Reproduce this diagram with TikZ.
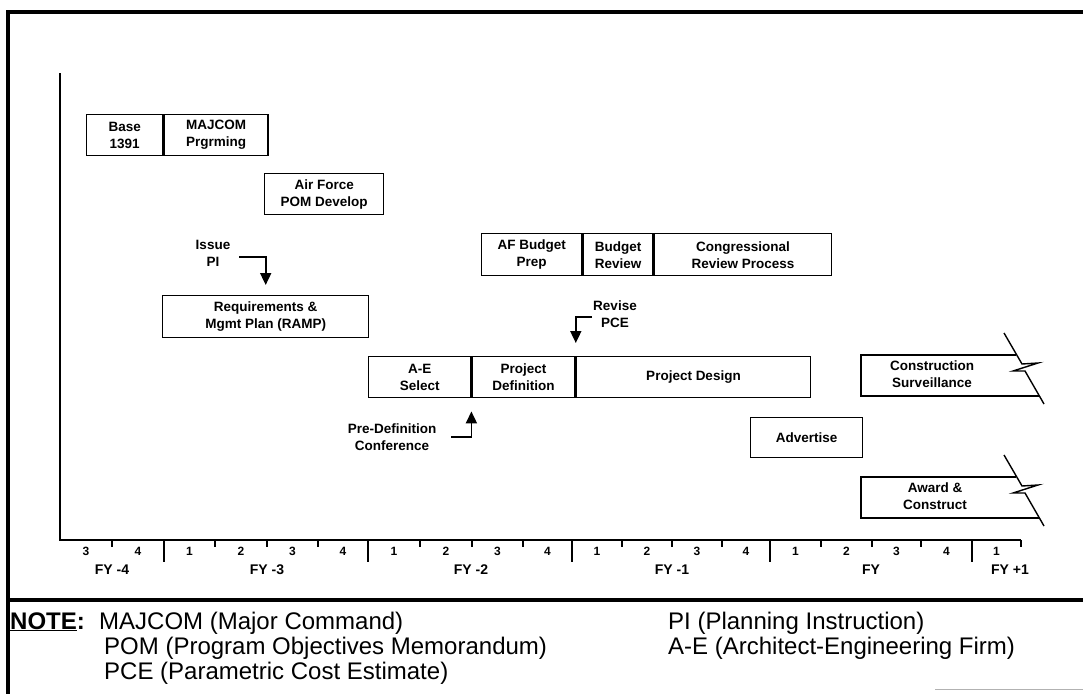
\documentclass[tikz,border=0pt]{standalone}
\usepackage{fontspec}
\setmainfont{Liberation Sans}
\usetikzlibrary{arrows.meta}
\newcommand\bxfont{\bfseries\fontsize{13.5}{17}\selectfont}
\newcommand\qnfont{\bfseries\fontsize{12}{14}\selectfont}
\newcommand\fylfont{\bfseries\fontsize{14}{16}\selectfont}
\newcommand\ntfont{\fontsize{24}{25}\selectfont}
\begin{document}
\begin{tikzpicture}[x=1pt,y=-1pt,
  cell/.style={draw, line width=1.4pt, anchor=north west, inner sep=0pt, align=center, font=\bxfont},
  lbl/.style={align=center, font=\bxfont, inner sep=1pt},
  bx/.style={line width=1.4pt},
  arr/.style={line width=1.8pt, -{Triangle[width=11pt,length=12pt]}},
  ax/.style={line width=1.6pt},
  qn/.style={font=\qnfont, inner sep=0pt},
  fyl/.style={font=\fylfont, inner sep=0pt},
  nt/.style={anchor=base west, font=\ntfont, inner sep=0pt},
  frame/.style={line width=3.5pt}]
\useasboundingbox (0,0) rectangle (1083,694);
% frame
\draw[frame] (1083,12) -- (8,12) -- (8,694);
\draw[frame] (8,600) -- (1083,600);
\draw[gray!60, line width=0.8pt] (935,689) -- (1083,689);
% axes
\draw[ax] (60,73) -- (60,540) -- (1021,540);
\foreach \x in {164,368,572,770,972} \draw[ax] (\x,540) -- (\x,562);
\foreach \x in {112,215,267,318,420,472,523,622,672,722,821,872,921,1021} \draw[ax] (\x,540) -- (\x,547);
\foreach \a/\b/\n [count=\i] in {60/112/3,112/164/4,164/215/1,215/267/2,267/318/3,318/368/4,368/420/1,420/472/2,472/523/3,523/572/4,572/622/1,622/672/2,672/722/3,722/770/4,770/821/1,821/872/2,872/921/3,921/972/4,972/1021/1}
  \node[qn] (q\i) at ({(\a+\b)/2},551) {\n};
\node[fyl] (fy4) at (112,570) {FY -4};
\node[fyl] (fy3) at (267,570) {FY -3};
\node[fyl] (fy2) at (471,570) {FY -2};
\node[fyl] (fy1) at (672,570) {FY -1};
\node[fyl] (fy0) at (871,570) {FY};
\node[fyl] (fyp) at (1010,570) {FY +1};
% boxes
\node[cell, minimum width=76pt, minimum height=41pt] (base) at (86,114) {Base\\1391};
\node[cell, minimum width=104pt, minimum height=41pt] (majcom) at (base.north east) {MAJCOM\\Prgrming};
\node[cell, minimum width=119pt, minimum height=41pt] (afpom) at (264,173) {Air Force\\POM Develop};
\node[cell, minimum width=206pt, minimum height=42pt] (ramp) at (162,295) {Requirements \&\\Mgmt Plan (RAMP)};
\node[cell, minimum width=100pt, minimum height=42pt] (afbud) at (481,233) {AF Budget\\Prep};
\node[cell, minimum width=70pt, minimum height=42pt] (budrev) at (afbud.north east) {Budget\\Review};
\node[cell, minimum width=177pt, minimum height=42pt] (cong) at (budrev.north east) {Congressional\\Review Process};
\node[cell, minimum width=102pt, minimum height=41pt] (aesel) at (368,356) {A-E\\Select};
\node[cell, minimum width=103pt, minimum height=41pt] (pdef) at (aesel.north east) {Project\\Definition};
\node[cell, minimum width=234pt, minimum height=41pt] (pdes) at (pdef.north east) {Project Design};
\node[cell, minimum width=112pt, minimum height=40pt] (adv) at (750,417) {Advertise};
% open-ended boxes with break symbols
\node[lbl] (constr) at (932,374) {Construction\\Surveillance};
\draw[bx] (1016,355) -- (861,355) -- (861,396) -- (1039,396);
\draw[bx] (1004,333) -- (1022,364) -- (1038,363) -- (1013,371) -- (1025,371) -- (1044,404);
\node[lbl] (award) at (935,496) {Award \&\\Construct};
\draw[bx] (1016,477) -- (861,477) -- (861,518) -- (1039,518);
\draw[bx] (1004,455) -- (1022,486) -- (1038,485) -- (1013,493) -- (1025,493) -- (1044,526);
% event labels and arrows
\node[lbl] (issue) at (213,253) {Issue\\PI};
\draw[arr, shorten <=8pt, shorten >=10pt] ([yshift=-4pt]issue.east) -| (ramp.north);
\node[lbl] (revise) at (615,314) {Revise\\PCE};
\draw[arr, shorten >=13pt] ([yshift=-3pt]revise.west) -| (pdes.north west);
\node[lbl] (predef) at (392,437) {Pre-Definition\\Conference};
\draw[arr, shorten <=14pt, shorten >=13pt] (predef.east) -| (aesel.south east);
% note
\node[nt] (notehd) at (10,629) {\bfseries\underline{NOTE}:};
\node[nt] (n1) at (99,629) {MAJCOM (Major Command)};
\node[nt] (n2) at (104,654) {POM (Program Objectives Memorandum)};
\node[nt] (n3) at (104,679) {PCE (Parametric Cost Estimate)};
\node[nt] (n4) at (668,629) {PI (Planning Instruction)};
\node[nt] (n5) at (668,654) {A-E (Architect-Engineering Firm)};
\end{tikzpicture}
\end{document}
